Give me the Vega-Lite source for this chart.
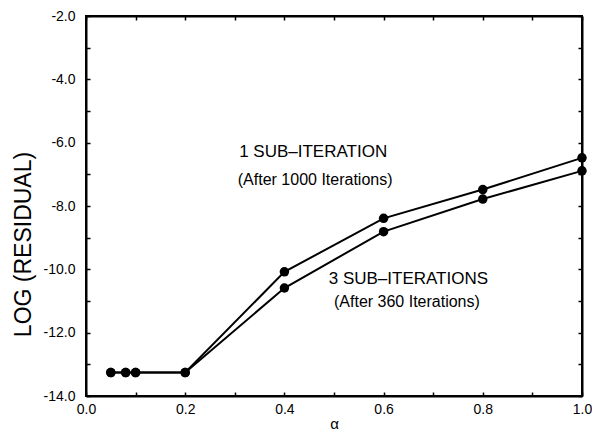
{
  "$schema": "https://vega.github.io/schema/vega-lite/v6.json",
  "width": 496,
  "height": 380,
  "autosize": {"type": "none"},
  "padding": {"left": 86, "top": 16, "right": 10, "bottom": 35},
  "background": "white",
  "config": {
    "font": "Liberation Sans",
    "view": {"stroke": "black", "strokeWidth": 2},
    "axis": {
      "domainColor": "black",
      "domainWidth": 2,
      "tickColor": "black",
      "tickWidth": 1.5,
      "labelColor": "black",
      "titleColor": "black",
      "labelFont": "Liberation Sans",
      "titleFont": "Liberation Sans",
      "labelFontSize": 14,
      "titleFontWeight": "normal",
      "grid": false
    }
  },
  "datasets": {
    "curves": [
      {"alpha": 0.05, "logres": -13.26, "series": "1 sub-iteration"},
      {"alpha": 0.08, "logres": -13.26, "series": "1 sub-iteration"},
      {"alpha": 0.1, "logres": -13.26, "series": "1 sub-iteration"},
      {"alpha": 0.2, "logres": -13.26, "series": "1 sub-iteration"},
      {"alpha": 0.4, "logres": -10.08, "series": "1 sub-iteration"},
      {"alpha": 0.6, "logres": -8.39, "series": "1 sub-iteration"},
      {"alpha": 0.8, "logres": -7.48, "series": "1 sub-iteration"},
      {"alpha": 1.0, "logres": -6.48, "series": "1 sub-iteration"},
      {"alpha": 0.05, "logres": -13.26, "series": "3 sub-iterations"},
      {"alpha": 0.08, "logres": -13.26, "series": "3 sub-iterations"},
      {"alpha": 0.1, "logres": -13.26, "series": "3 sub-iterations"},
      {"alpha": 0.2, "logres": -13.26, "series": "3 sub-iterations"},
      {"alpha": 0.4, "logres": -10.59, "series": "3 sub-iterations"},
      {"alpha": 0.6, "logres": -8.81, "series": "3 sub-iterations"},
      {"alpha": 0.8, "logres": -7.78, "series": "3 sub-iterations"},
      {"alpha": 1.0, "logres": -6.89, "series": "3 sub-iterations"}
    ],
    "labels": [
      {"alpha": 0.458, "logres": -6.31, "text": "1 SUB–ITERATION", "size": 17},
      {"alpha": 0.462, "logres": -7.18, "text": "(After 1000 Iterations)", "size": 16},
      {"alpha": 0.650, "logres": -10.30, "text": "3 SUB–ITERATIONS", "size": 17},
      {"alpha": 0.647, "logres": -11.03, "text": "(After 360 Iterations)", "size": 16}
    ]
  },
  "resolve": {"axis": {"x": "independent", "y": "independent"}},
  "layer": [
    {
      "data": {"name": "curves"},
      "mark": {"type": "line", "color": "black", "strokeWidth": 2},
      "encoding": {
        "x": {
          "field": "alpha", "type": "quantitative",
          "scale": {"domain": [0, 1], "nice": false, "zero": false},
          "axis": {
            "title": "α", "titleFontSize": 15, "titlePadding": 0,
            "values": [0, 0.1, 0.2, 0.3, 0.4, 0.5, 0.6, 0.7, 0.8, 0.9, 1.0],
            "labelExpr": "round(datum.value*10)%2==0 ? format(datum.value,'.1f') : ''",
            "tickSize": -4, "labelPadding": 10, "labelFlush": false
          }
        },
        "y": {
          "field": "logres", "type": "quantitative",
          "scale": {"domain": [-14, -2], "nice": false, "zero": false},
          "axis": {
            "title": "LOG (RESIDUAL)", "titleFontSize": 23, "titlePadding": 8, "titleY": 228,
            "values": [-14, -13, -12, -11, -10, -9, -8, -7, -6, -5, -4, -3, -2],
            "labelExpr": "round(abs(datum.value))%2==0 ? replace(format(datum.value,'.1f'), '−', '-') : ''",
            "tickSize": -4, "labelPadding": 15, "labelFlush": false
          }
        },
        "detail": {"field": "series"}
      }
    },
    {
      "data": {"name": "curves"},
      "mark": {"type": "line", "opacity": 0, "encoding": {}},
      "encoding": {
        "x": {
          "field": "alpha", "type": "quantitative",
          "axis": {
            "orient": "top", "title": null, "labels": false,
            "values": [0, 0.1, 0.2, 0.3, 0.4, 0.5, 0.6, 0.7, 0.8, 0.9, 1.0],
            "tickSize": -4
          }
        },
        "y": {
          "field": "logres", "type": "quantitative",
          "axis": {
            "orient": "right", "title": null, "labels": false,
            "values": [-14, -13, -12, -11, -10, -9, -8, -7, -6, -5, -4, -3, -2],
            "tickSize": -4
          }
        },
        "detail": {"field": "series"}
      }
    },
    {
      "data": {"name": "curves"},
      "mark": {"type": "circle", "color": "black", "opacity": 1, "size": 90},
      "encoding": {
        "x": {"field": "alpha", "type": "quantitative", "axis": null},
        "y": {"field": "logres", "type": "quantitative", "axis": null}
      }
    },
    {
      "data": {"name": "labels"},
      "mark": {"type": "text", "color": "black", "font": "Liberation Sans", "align": "center", "baseline": "middle"},
      "encoding": {
        "x": {"field": "alpha", "type": "quantitative", "axis": null},
        "y": {"field": "logres", "type": "quantitative", "axis": null},
        "text": {"field": "text"},
        "size": {"field": "size", "type": "quantitative", "scale": null, "legend": null}
      }
    }
  ]
}
